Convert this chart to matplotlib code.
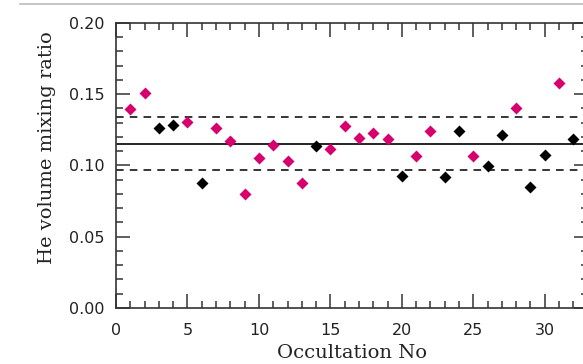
import matplotlib
matplotlib.use('Agg')
import matplotlib.pyplot as plt
from matplotlib.lines import Line2D
from matplotlib.ticker import MultipleLocator

# occultation number, He mixing ratio
pink_x = [1, 2, 5, 7, 8, 9, 10, 11, 12, 13, 15, 16, 17, 18, 19, 21, 22, 25, 28, 31]
pink_y = [0.1397, 0.1505, 0.1303, 0.1265, 0.1174, 0.0801, 0.1051, 0.1143, 0.1033, 0.0875,
          0.1113, 0.1275, 0.1195, 0.1225, 0.1185, 0.1066, 0.1244, 0.1066, 0.1406, 0.1577]
black_x = [3, 4, 6, 14, 20, 23, 24, 26, 27, 29, 30, 32]
black_y = [0.1265, 0.1284, 0.0875, 0.1134, 0.0927, 0.0920, 0.1244, 0.0993, 0.1216, 0.0850,
           0.1075, 0.1188]
mean_val = 0.1153
band = [0.0965, 0.1340]

fig = plt.figure(figsize=(5.83, 3.64), dpi=100)
ax = fig.add_axes([0.199, 0.154, 0.809, 0.783])

ax.axhline(mean_val, color='black', lw=1.2)
for b in band:
    ax.axhline(b, color='black', lw=1.1, ls=(0, (5, 4)))

ax.plot(pink_x, pink_y, 'D', color='#d6006f', ms=6, mec='none')
ax.plot(black_x, black_y, 'D', color='black', ms=6, mec='none')

ax.set_xlim(0, 33)
ax.set_ylim(0, 0.2)
ax.xaxis.set_major_locator(MultipleLocator(5))
ax.xaxis.set_minor_locator(MultipleLocator(1))
ax.yaxis.set_major_locator(MultipleLocator(0.05))
ax.yaxis.set_minor_locator(MultipleLocator(0.01))
ax.yaxis.set_major_formatter(matplotlib.ticker.FormatStrFormatter('%.2f'))
ax.tick_params(which='both', direction='in', top=True, right=True, width=1.1, colors='#333333',
               labelcolor='#222222', labelsize=11.5)
ax.tick_params(which='major', length=10)
ax.tick_params(which='minor', length=5)
ax.tick_params(axis='x', which='major', pad=11)
ax.tick_params(axis='y', which='major', pad=8)
for s in ax.spines.values():
    s.set_linewidth(1.2)
    s.set_color('#333333')

ax.set_xlabel('Occultation No', family='DejaVu Serif', fontsize=14, labelpad=4, color='#222222')
ax.set_ylabel('He volume mixing ratio', family='DejaVu Serif', fontsize=14, color='#222222')
ax.yaxis.set_label_coords(-0.146, 0.563)
ax.yaxis.label.set_verticalalignment('center')

# screenshot frame line at the top
fig.add_artist(Line2D([20 / 583, 1], [1 - 4 / 364, 1 - 4 / 364], color='#bbbbbb', lw=1.2))

fig.savefig('out.png', dpi=100)
